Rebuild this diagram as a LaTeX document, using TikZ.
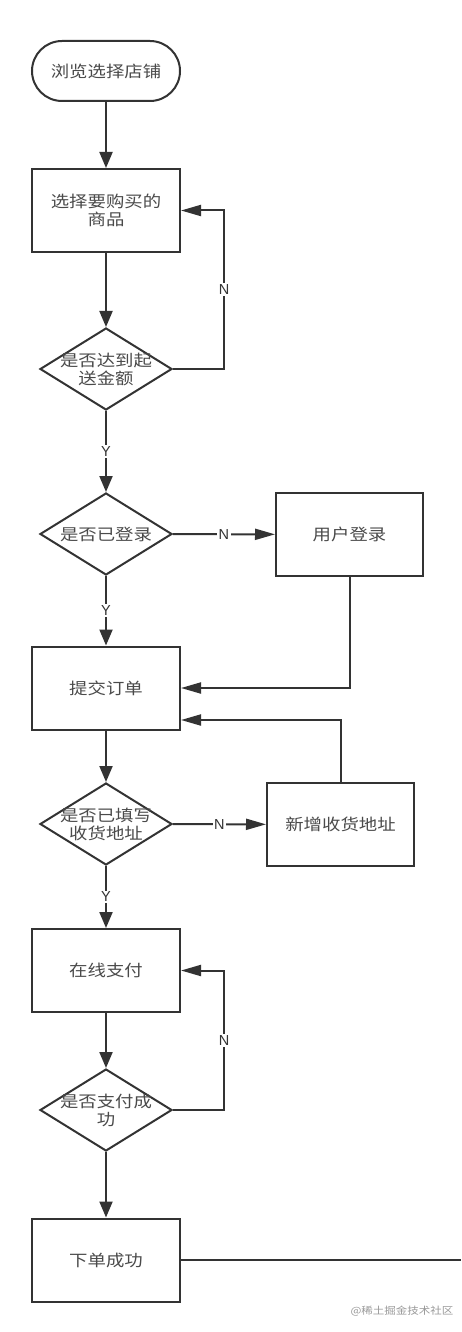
\documentclass[tikz,border=0pt]{standalone}
\usepackage{fontspec}
\setmainfont{Liberation Sans}
\newfontfamily\cjk{Noto Sans CJK SC}[FakeStretch=1.15]
\usepackage{xcolor}
\usetikzlibrary{arrows.meta,shapes.geometric}
\definecolor{lc}{HTML}{333333}
\definecolor{tc}{HTML}{4A4A4A}
\begin{document}
\begin{tikzpicture}[x=1pt,y=-1pt,line width=2pt,
  cn/.style={font=\cjk\fontsize{16}{18}\selectfont,text=tc,align=center},
  box/.style={cn,draw=lc,rectangle,minimum width=148pt,minimum height=83pt,inner sep=0pt},
  term/.style={box,rounded corners=30pt,minimum height=60pt},
  ask/.style={draw=lc,diamond,minimum width=132pt,minimum height=82pt,inner sep=0pt},
  dtxt/.style={cn,inner sep=0pt},
  yn/.style={fill=white,inner sep=1.5pt,text=lc,font=\fontsize{14.5}{14.5}\selectfont},
  va/.style={draw=lc,-{Triangle[length=16pt,width=13pt]}},
  ha/.style={draw=lc,-{Triangle[length=20pt,width=11pt]}}]
\useasboundingbox[fill=white] (0,0) rectangle (461,1332);
% main column
\node[term] (start) at (106,71) {浏览选择店铺};
\node[box] (pick) at (106,210.5) {选择要购买的\\商品};
\node[ask,label={[dtxt]center:是否达到起\\送金额}] (min) at (106,369) {};
\node[ask,label={[dtxt]center:是否已登录}] (log) at (106,534) {};
\node[box] (order) at (106,688) {提交订单};
\node[ask,label={[dtxt]center:是否已填写\\收货地址}] (adr) at (106,824) {};
\node[box] (pay) at (106,970.5) {在线支付};
\node[ask,label={[dtxt]center:是否支付成\\功}] (ok) at (106,1110) {};
\node[box] (done) at (106,1260) {下单成功};
% side boxes
\node[box,minimum width=147pt] (login) at (349.5,534.5) {用户登录};
\node[box,minimum width=147pt] (newadr) at (340.5,824.5) {新增收货地址};
\coordinate (rim) at (461,0);
% arrows
\draw[va] (start) -- (pick);
\draw[va] (pick) -- (min);
\draw[ha] (min.east) -- ++(51,0) |- (pick.east) node[yn,pos=.25]{N};
\draw[va] (min) -- (log) node[yn,midway]{Y};
\draw[ha] (log) -- (login) node[yn,midway]{N};
\draw[va] (log) -- (order) node[yn,midway]{Y};
\draw[ha] (login.south) |- (order.east);
\draw[va] (order) -- (adr);
\draw[ha] (newadr.north) |- ([yshift=-32pt]order.east);
\draw[ha] (adr) -- (newadr) node[yn,midway]{N};
\draw[va] (adr) -- (pay) node[yn,midway]{Y};
\draw[va] (pay) -- (ok);
\draw[ha] (ok.east) -- ++(51,0) |- (pay.east) node[yn,pos=.25]{N};
\draw[va] (ok) -- (done);
\draw[draw=lc] (done.east) -- (done.east -| rim);
\node[font=\cjk\fontsize{10}{10}\selectfont,text=black!40] (wm) at (402,1311) {@稀土掘金技术社区};
\end{tikzpicture}
\end{document}
